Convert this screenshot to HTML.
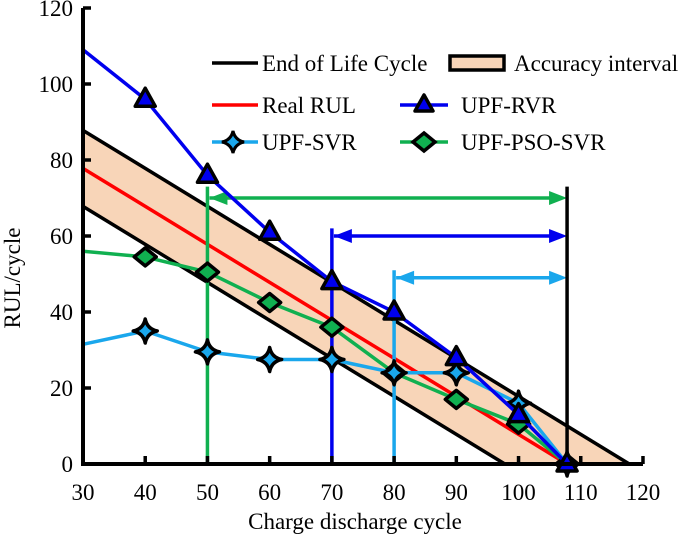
<!DOCTYPE html>
<html><head><meta charset="utf-8"><style>
html,body{margin:0;padding:0;background:#fff;}
svg{display:block;font-family:"Liberation Serif",serif;}
</style></head><body>
<svg id="chart" width="685" height="536" viewBox="0 0 685 536">
<g id="plot"></g>
<g id="legend">
<line x1="212" y1="63" x2="258" y2="63" stroke="#000" stroke-width="3.5"/>
<text x="262" y="71" font-size="23">End of Life Cycle</text>
<rect x="450" y="56" width="54" height="14" fill="#f8d5b8" stroke="#000" stroke-width="3.5"/>
<text x="514" y="71" font-size="23">Accuracy interval</text>
<line x1="212" y1="105" x2="258" y2="105" stroke="#ff0000" stroke-width="3.5"/>
<text x="262" y="113" font-size="23">Real RUL</text>
<line x1="400" y1="105" x2="448" y2="105" stroke="#0000ee" stroke-width="3.5"/>
<path d="M424,95 L433,111 L415,111Z" fill="#0000ee" stroke="#000" stroke-width="3.5" stroke-linejoin="round"/>
<text x="461" y="113" font-size="23">UPF-RVR</text>
<line x1="212" y1="142" x2="258" y2="142" stroke="#1aa7ec" stroke-width="3.5"/>
<path d="M233,131 Q235,140 244,142 Q235,144 233,153 Q231,144 222,142 Q231,140 233,131Z" fill="#1aa7ec" stroke="#000" stroke-width="3"/>
<text x="262" y="150" font-size="23">UPF-SVR</text>
<line x1="400" y1="142" x2="448" y2="142" stroke="#10b050" stroke-width="3.5"/>
<path d="M424,133 L435,142 L424,151 L413,142Z" fill="#10b050" stroke="#000" stroke-width="3.5"/>
<text x="461" y="150" font-size="23">UPF-PSO-SVR</text>
</g>
</svg>
<script>
const xs = [30,40,50,60,70,80,90,100,107.8];
const rvr = [109,96,76,61,48,40,28,13,0];
const svr = [31.5,35,29.5,27.5,27.5,24,24,16,0];
const pso = [56,54.5,50.5,42.5,36,24,17,10.5,0];
const xTicks = [30,40,50,60,70,80,90,100,110,120];
const yTicks = [0,20,40,60,80,100,120];
const eol = 107.8;
const realStart = [30,77.8];
const bandHalf = 10;
const predStarts = [50,70,80];
const predTops = [73,62,51];
const predArrowY = [70,60,49];

const X = v => 83 + (v-30)*6.222;
const Y = v => 464 - v*3.8;
const NS = 'http://www.w3.org/2000/svg';
const g = document.getElementById('plot');
function mk(tag, attrs, parent){const e=document.createElementNS(NS,tag);for(const k in attrs)e.setAttribute(k,attrs[k]);(parent||g).appendChild(e);return e;}

const slope = realStart[1]/(eol-realStart[0]);
const upX0 = eol+bandHalf/slope, loX0 = eol-bandHalf/slope;
let band = mk('polygon',{points:`${X(30)},${Y(realStart[1]+bandHalf)} ${X(upX0)},${Y(0)} ${X(loX0)},${Y(0)} ${X(30)},${Y(realStart[1]-bandHalf)}`,fill:'#f8d5b8'});


let ub = mk('line',{x1:X(30),y1:Y(realStart[1]+bandHalf),x2:X(upX0),y2:Y(0),stroke:'#000','stroke-width':3.5});


let lb = mk('line',{x1:X(30),y1:Y(realStart[1]-bandHalf),x2:X(loX0),y2:Y(0),stroke:'#000','stroke-width':3.5});


let rl = mk('line',{x1:X(30),y1:Y(realStart[1]),x2:X(eol),y2:Y(0),stroke:'#ff0000','stroke-width':3.5});



const pcol = ['#10b050','#0000ee','#1aa7ec'];
predStarts.forEach((s,i)=>{
  let v = mk('line',{x1:X(s),y1:Y(0),x2:X(s),y2:Y(predTops[i]),stroke:pcol[i],'stroke-width':3.5});
  
  
  const y=Y(predArrowY[i]);
  let a = mk('line',{x1:X(s)+2,y1:y,x2:X(eol)-16,y2:y,stroke:pcol[i],'stroke-width':3.5});
  
  
  let h1 = mk('path',{d:`M${X(s)+2},${y} l18,-7 l0,14z`,fill:pcol[i]});
  
  
  let h2 = mk('path',{d:`M${X(eol)},${y} l-18,-7 l0,14z`,fill:pcol[i]});
  
  
});
let el = mk('line',{x1:X(eol),y1:Y(0),x2:X(eol),y2:Y(73),stroke:'#000','stroke-width':3.5});



function series(vals,col,name,marker){
  const pts = xs.map((x,i)=>X(x)+','+Y(vals[i])).join(' ');
  let p = mk('polyline',{points:pts,fill:'none',stroke:col,'stroke-width':3.5,'stroke-linejoin':'round'});
  
  
  xs.forEach((x,i)=>{
    if(i===0) return;
    const cx=X(x), cy=Y(vals[i]);
    let d;
    if(marker==='tri') d=`M${cx},${cy-11} L${cx+10},${cy+7} L${cx-10},${cy+7}Z`;
    else if(marker==='dia') d=`M${cx},${cy-9} L${cx+11},${cy} L${cx},${cy+9} L${cx-11},${cy}Z`;
    else d=`M${cx},${cy-12} Q${cx+2},${cy-2} ${cx+12},${cy} Q${cx+2},${cy+2} ${cx},${cy+12} Q${cx-2},${cy+2} ${cx-12},${cy} Q${cx-2},${cy-2} ${cx},${cy-12}Z`;
    let m = mk('path',{d:d,fill:col,stroke:'#000','stroke-width':3.5,'stroke-linejoin':'round'});
    
    
  });
}
series(pso,'#10b050','upf-pso-svr','dia');
series(svr,'#1aa7ec','upf-svr','star');
series(rvr,'#0000ee','upf-rvr','tri');

let ax = mk('path',{d:`M${X(30)},${Y(120)} L${X(30)},${Y(0)} L${X(120)},${Y(0)}`,fill:'none',stroke:'#000','stroke-width':4});


yTicks.forEach(t=>{
  let l = mk('line',{x1:X(30),y1:Y(t),x2:X(30)+8,y2:Y(t),stroke:'#000','stroke-width':3.5});
  
  
  let tx = mk('text',{x:X(30)-10,y:Y(t)+8,'font-size':23,'text-anchor':'end'});
  tx.textContent=t;
  
  
});
xTicks.forEach(t=>{
  let l = mk('line',{x1:X(t),y1:Y(0),x2:X(t),y2:Y(0)-8,stroke:'#000','stroke-width':3.5});
  
  
  let tx = mk('text',{x:X(t),y:Y(0)+36,'font-size':23,'text-anchor':'middle'});
  tx.textContent=t;
  
  
});
let xt = mk('text',{x:355,y:529,'font-size':23,'text-anchor':'middle'});
xt.textContent='Charge discharge cycle';


let yt = mk('text',{x:0,y:0,'font-size':23,'text-anchor':'middle',transform:'translate(20,278) rotate(-90)'});
yt.textContent='RUL/cycle';


</script>
</body></html>
